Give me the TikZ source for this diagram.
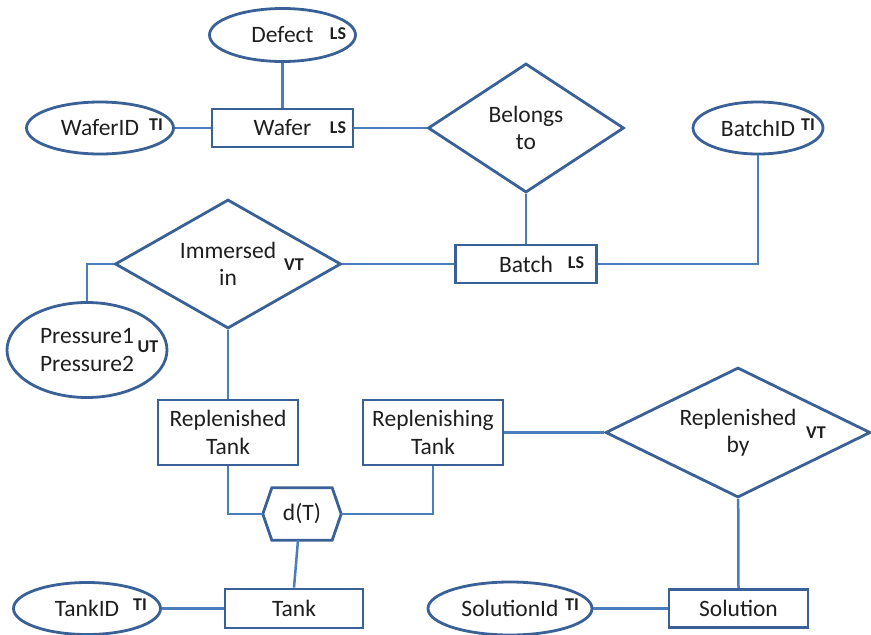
\documentclass[tikz,border=0pt]{standalone}
\usepackage{fontspec}
\setmainfont{Carlito}
\usetikzlibrary{shapes.geometric}
\definecolor{shapeblue}{HTML}{3A6197}
\definecolor{linkblue}{HTML}{4A7EBB}
\definecolor{ink}{HTML}{1E1E1E}

\begin{document}
\begin{tikzpicture}[x=1pt,y=-1pt,
  every node/.style={font=\fontsize{23.5}{27.5}\selectfont, text=ink, inner sep=0pt, align=center},
  ent/.style={draw=shapeblue, line width=2.8pt, rectangle},
  attr/.style={draw=shapeblue, line width=2.8pt, ellipse},
  rel/.style={draw=shapeblue, line width=2.8pt, diamond},
  tag/.style={font=\bfseries\fontsize{18}{18}\selectfont},
  link/.style={draw=linkblue, line width=2.5pt}]
\useasboundingbox (0,0) rectangle (871,635);

% entities, attributes and relationships
\node[attr, minimum width=146pt, minimum height=53pt] (defect) at (282.5,35) {Defect};
\node[tag] (tagDefect) at (338,34) {LS};
\node[attr, minimum width=147pt, minimum height=52pt] (waferid) at (100,128) {WaferID};
\node[tag] (tagWaferid) at (156,125) {TI};
\node[ent, minimum width=141pt, minimum height=38pt] (wafer) at (282.5,128) {Wafer};
\node[tag] (tagWafer) at (338,128) {LS};
\node[rel, aspect=1.52, minimum width=196pt, minimum height=129pt] (belongs) at (526,128) {Belongs\\to};
\node[attr, minimum width=130pt, minimum height=52pt] (batchid) at (758,128) {BatchID};
\node[tag] (tagBatchid) at (808,125) {TI};
\node[ent, minimum width=141pt, minimum height=38pt] (batch) at (526,264) {Batch};
\node[tag] (tagBatch) at (576,263) {LS};
\node[rel, aspect=1.75, minimum width=226pt, minimum height=129pt] (immersed) at (228,264) {Immersed\\in};
\node[tag] (tagImmersed) at (294,265) {VT};
\node[attr, minimum width=160pt, minimum height=95pt] (pressure) at (87,350) {Pressure1\\Pressure2};
\node[tag] (tagPressure) at (148,347) {UT};
\node[ent, minimum width=140pt, minimum height=65pt] (rtank) at (228,432.5) {Replenished\\Tank};
\node[ent, minimum width=140pt, minimum height=65pt] (rgtank) at (433,432.5) {Replenishing\\Tank};
\node[rel, aspect=2.04, minimum width=265pt, minimum height=130pt] (replby) at (738,432.5) {Replenished\\by};
\node[tag] (tagReplby) at (816,433) {VT};
\node[minimum width=60pt, minimum height=52pt] (dt) at (302,514) {d(T)};
\coordinate (dtl) at ([xshift=-9pt]dt.west);
\coordinate (dtr) at ([xshift=9pt]dt.east);
\draw[draw=shapeblue, line width=2.8pt, line join=miter]
  (dtl) -- (dt.north west) -- (dt.north east) -- (dtr) -- (dt.south east) -- (dt.south west) -- cycle;
\node[ent, minimum width=138pt, minimum height=39pt] (tank) at (294,608.5) {Tank};
\node[attr, minimum width=147pt, minimum height=52pt] (tankid) at (87,608.5) {TankID};
\node[tag] (tagTankid) at (140,605) {TI};
\node[ent, minimum width=139pt, minimum height=38pt] (solution) at (738.5,608.5) {Solution};
\node[attr, minimum width=164pt, minimum height=53pt] (solid) at (510,608.5) {SolutionId};
\node[tag] (tagSolid) at (572,605) {TI};

% connectors
\draw[link] (defect) -- (wafer);
\draw[link] (waferid) -- (wafer);
\draw[link] (wafer) -- (belongs);
\draw[link] (belongs) -- (batch);
\draw[link] (batch.east) -| (batchid.south);
\draw[link] (immersed) -- (batch);
\draw[link] (immersed.west) -| (pressure.north);
\draw[link] (immersed) -- (rtank);
\draw[link] (rtank.south) |- (dtl);
\draw[link] (dtr) -| (rgtank.south);
\draw[link] ([xshift=-4pt]dt.south) -- (tank.north);
\draw[link] (tankid) -- (tank);
\draw[link] (rgtank) -- (replby);
\draw[link] (replby) -- (solution.north);
\draw[link] (solid) -- (solution);
\end{tikzpicture}
\end{document}
